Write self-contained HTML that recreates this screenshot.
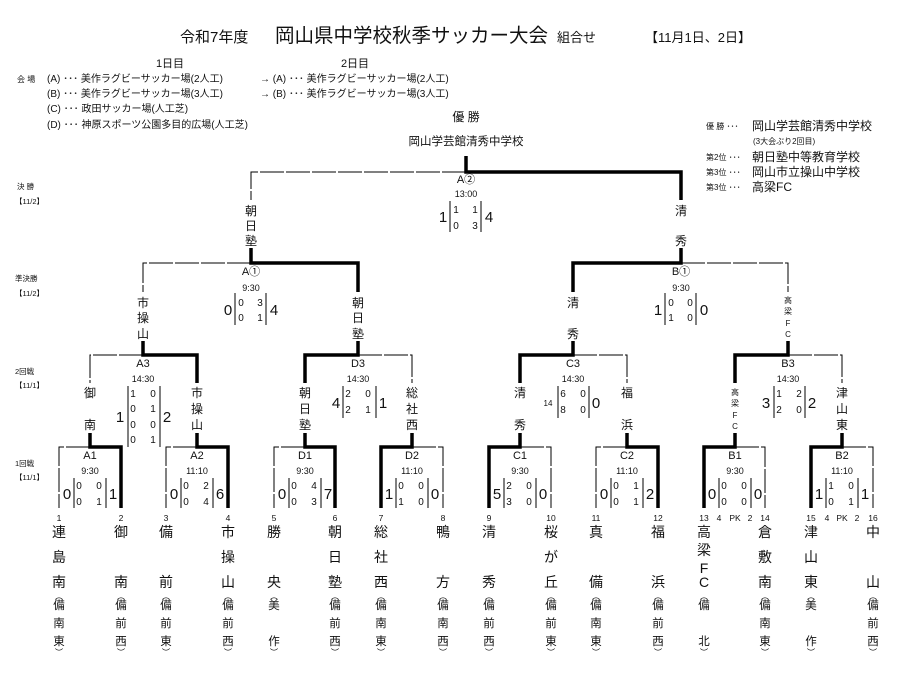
<!DOCTYPE html>
<html><head><meta charset="utf-8"><style>
html,body{margin:0;padding:0;background:#fff;}
svg{display:block;font-family:"Liberation Sans","Noto Sans CJK JP",sans-serif;}
text{fill:#111;}
.t{stroke:#000;stroke-width:1;fill:none;stroke-dasharray:24 2;}
.k{stroke:#000;stroke-width:3.5;fill:none;}
.b{stroke:#000;stroke-width:1;}
.m{text-anchor:middle;}
</style></head><body>
<svg width="905" height="675" viewBox="0 0 905 675">
<!-- header -->
<text x="180" y="42" font-size="15">令和7年度</text>
<text x="275" y="42" font-size="19.5">岡山県中学校秋季サッカー大会</text>
<text x="557" y="42" font-size="13">組合せ</text>
<text x="645" y="42" font-size="13">【11月1日、2日】</text>
<text x="170" y="67" font-size="11" class="m">1日目</text>
<text x="355" y="67" font-size="11" class="m">2日目</text>
<g font-size="10">
<text x="17" y="82" font-size="8">会 場</text>
<text x="47" y="82">(A) ･･･ 美作ラグビーサッカー場(2人工)</text>
<text x="47" y="97">(B) ･･･ 美作ラグビーサッカー場(3人工)</text>
<text x="47" y="112">(C) ･･･ 政田サッカー場(人工芝)</text>
<text x="47" y="128">(D) ･･･ 神原スポーツ公園多目的広場(人工芝)</text>
<text x="260" y="82">→ (A) ･･･ 美作ラグビーサッカー場(2人工)</text>
<text x="260" y="97">→ (B) ･･･ 美作ラグビーサッカー場(3人工)</text>
</g>
<!-- legend right -->
<text x="706" y="129" font-size="8">優 勝 ･･･</text>
<text x="752" y="130" font-size="12">岡山学芸館清秀中学校</text>
<text x="753" y="144" font-size="8">(3大会ぶり2回目)</text>
<text x="706" y="160" font-size="8">第2位 ･･･</text>
<text x="752" y="161" font-size="12">朝日塾中等教育学校</text>
<text x="706" y="175" font-size="8">第3位 ･･･</text>
<text x="752" y="176" font-size="12">岡山市立操山中学校</text>
<text x="706" y="190" font-size="8">第3位 ･･･</text>
<text x="752" y="191" font-size="12">高梁FC</text>
<!-- left round labels -->
<g font-size="7.5">
<text x="17" y="189">決 勝</text><text x="15" y="204">【11/2】</text>
<text x="15" y="281">準決勝</text><text x="15" y="296">【11/2】</text>
<text x="15" y="374">2回戦</text><text x="15" y="388">【11/1】</text>
<text x="15" y="466">1回戦</text><text x="15" y="480">【11/1】</text>
</g>
<!-- champion -->
<text x="466" y="121" font-size="12" class="m">優 勝</text>
<text x="466" y="145" font-size="11.5" class="m">岡山学芸館清秀中学校</text>

<!-- lines thin -->
<path class="t" d="M90 447H59V508 M197 447H166V508 M305 447H274V508 M412 447H443V508 M520 447H551V508 M627 447H596V508 M735 447H765V508 M842 447H873V508"/>
<path class="t" d="M143 355H90V383 M358 355H412V383 M573 355H627V383 M788 355H842V383"/>
<path class="t" d="M251 263H143V292 M681 263H788V292"/>
<path class="t" d="M466 172H251V200"/>
<!-- thick -->
<path class="k" d="M121 508V447H90V433 M228 508V447H197V433 M335 508V447H305V433 M381 508V447H412V433 M489 508V447H520V433 M658 508V447H627V433 M704 508V447H735V433 M811 508V447H842V433"/>
<path class="k" d="M197 383V355H143V341 M305 383V355H358V341 M520 383V355H573V341 M735 383V355H788V341"/>
<path class="k" d="M358 292V263H251V248 M573 292V263H681V248"/>
<path class="k" d="M681 200V172H466V156"/>

<!-- final -->
<text x="466" y="183" font-size="11" class="m">A②</text>
<text x="466" y="197" font-size="9" class="m">13:00</text>
<line class="b" x1="450" y1="201" x2="450" y2="232"/><line class="b" x1="481" y1="201" x2="481" y2="232"/>
<text x="443" y="222" font-size="15" class="m">1</text><text x="489" y="222" font-size="15" class="m">4</text>
<g font-size="10" class="m"><text x="456" y="213">1</text><text x="475" y="213">1</text><text x="456" y="229">0</text><text x="475" y="229">3</text></g>
<g font-size="12" class="m">
<text x="251" y="215">朝</text><text x="251" y="230">日</text><text x="251" y="245">塾</text>
<text x="681" y="215">清</text><text x="681" y="245">秀</text>
</g>

<!-- semis -->
<g class="m">
<text x="251" y="275" font-size="11">A①</text><text x="251" y="291" font-size="9">9:30</text>
<text x="681" y="275" font-size="11">B①</text><text x="681" y="291" font-size="9">9:30</text>
</g>
<line class="b" x1="235" y1="293" x2="235" y2="325"/><line class="b" x1="266" y1="293" x2="266" y2="325"/>
<line class="b" x1="665" y1="293" x2="665" y2="325"/><line class="b" x1="696" y1="293" x2="696" y2="325"/>
<g class="m" font-size="15"><text x="228" y="315">0</text><text x="274" y="315">4</text><text x="658" y="315">1</text><text x="704" y="315">0</text></g>
<g class="m" font-size="10">
<text x="241" y="306">0</text><text x="260" y="306">3</text><text x="241" y="321">0</text><text x="260" y="321">1</text>
<text x="671" y="306">0</text><text x="690" y="306">0</text><text x="671" y="321">1</text><text x="690" y="321">0</text>
</g>
<g class="m" font-size="12">
<text x="143" y="307">市</text><text x="143" y="322">操</text><text x="143" y="338">山</text>
<text x="358" y="307">朝</text><text x="358" y="322">日</text><text x="358" y="338">塾</text>
<text x="573" y="307">清</text><text x="573" y="338">秀</text>
</g>
<g class="m" font-size="8"><text x="788" y="303">高</text><text x="788" y="314">梁</text><text x="788" y="326">F</text><text x="788" y="337">C</text></g>

<!-- round 2 -->
<g class="m">
<text x="143" y="367" font-size="11">A3</text><text x="143" y="382" font-size="9">14:30</text>
<text x="358" y="367" font-size="11">D3</text><text x="358" y="382" font-size="9">14:30</text>
<text x="573" y="367" font-size="11">C3</text><text x="573" y="382" font-size="9">14:30</text>
<text x="788" y="367" font-size="11">B3</text><text x="788" y="382" font-size="9">14:30</text>
</g>
<line class="b" x1="128" y1="386" x2="128" y2="447"/><line class="b" x1="160" y1="386" x2="160" y2="447"/>
<line class="b" x1="343" y1="386" x2="343" y2="418"/><line class="b" x1="376" y1="386" x2="376" y2="418"/>
<line class="b" x1="558" y1="386" x2="558" y2="418"/><line class="b" x1="589" y1="386" x2="589" y2="418"/>
<line class="b" x1="774" y1="386" x2="774" y2="418"/><line class="b" x1="805" y1="386" x2="805" y2="418"/>
<g class="m" font-size="15">
<text x="120" y="422">1</text><text x="167" y="422">2</text>
<text x="336" y="408">4</text><text x="383" y="408">1</text>
<text x="596" y="408">0</text>
<text x="766" y="408">3</text><text x="812" y="408">2</text>
</g>
<text x="548" y="406" font-size="8" class="m">14</text>
<g class="m" font-size="10">
<text x="133" y="397">1</text><text x="153" y="397">0</text>
<text x="133" y="412">0</text><text x="153" y="412">1</text>
<text x="133" y="428">0</text><text x="153" y="428">0</text>
<text x="133" y="443">0</text><text x="153" y="443">1</text>
<text x="348" y="397">2</text><text x="368" y="397">0</text><text x="348" y="413">2</text><text x="368" y="413">1</text>
<text x="563" y="397">6</text><text x="583" y="397">0</text><text x="563" y="413">8</text><text x="583" y="413">0</text>
<text x="779" y="397">1</text><text x="799" y="397">2</text><text x="779" y="413">2</text><text x="799" y="413">0</text>
</g>
<g class="m" font-size="12">
<text x="90" y="397">御</text><text x="90" y="429">南</text>
<text x="197" y="397">市</text><text x="197" y="413">操</text><text x="197" y="429">山</text>
<text x="305" y="397">朝</text><text x="305" y="413">日</text><text x="305" y="429">塾</text>
<text x="412" y="397">総</text><text x="412" y="413">社</text><text x="412" y="429">西</text>
<text x="520" y="397">清</text><text x="520" y="429">秀</text>
<text x="627" y="397">福</text><text x="627" y="429">浜</text>
<text x="842" y="397">津</text><text x="842" y="413">山</text><text x="842" y="429">東</text>
</g>
<g class="m" font-size="8"><text x="735" y="395">高</text><text x="735" y="406">梁</text><text x="735" y="418">F</text><text x="735" y="429">C</text></g>

<!-- round 1 -->
<g class="m">
<text x="90" y="459" font-size="11">A1</text><text x="90" y="474" font-size="9">9:30</text>
<text x="197" y="459" font-size="11">A2</text><text x="197" y="474" font-size="9">11:10</text>
<text x="305" y="459" font-size="11">D1</text><text x="305" y="474" font-size="9">9:30</text>
<text x="412" y="459" font-size="11">D2</text><text x="412" y="474" font-size="9">11:10</text>
<text x="520" y="459" font-size="11">C1</text><text x="520" y="474" font-size="9">9:30</text>
<text x="627" y="459" font-size="11">C2</text><text x="627" y="474" font-size="9">11:10</text>
<text x="735" y="459" font-size="11">B1</text><text x="735" y="474" font-size="9">9:30</text>
<text x="842" y="459" font-size="11">B2</text><text x="842" y="474" font-size="9">11:10</text>
</g>
<g class="b">
<line x1="74" y1="478" x2="74" y2="508"/><line x1="106" y1="478" x2="106" y2="508"/>
<line x1="181" y1="478" x2="181" y2="508"/><line x1="213" y1="478" x2="213" y2="508"/>
<line x1="289" y1="478" x2="289" y2="508"/><line x1="321" y1="478" x2="321" y2="508"/>
<line x1="396" y1="478" x2="396" y2="508"/><line x1="428" y1="478" x2="428" y2="508"/>
<line x1="504" y1="478" x2="504" y2="508"/><line x1="536" y1="478" x2="536" y2="508"/>
<line x1="611" y1="478" x2="611" y2="508"/><line x1="643" y1="478" x2="643" y2="508"/>
<line x1="719" y1="478" x2="719" y2="508"/><line x1="751" y1="478" x2="751" y2="508"/>
<line x1="826" y1="478" x2="826" y2="508"/><line x1="858" y1="478" x2="858" y2="508"/>
</g>
<g class="m" font-size="15">
<text x="67" y="499">0</text><text x="113" y="499">1</text>
<text x="174" y="499">0</text><text x="220" y="499">6</text>
<text x="282" y="499">0</text><text x="328" y="499">7</text>
<text x="389" y="499">1</text><text x="435" y="499">0</text>
<text x="497" y="499">5</text><text x="543" y="499">0</text>
<text x="604" y="499">0</text><text x="650" y="499">2</text>
<text x="712" y="499">0</text><text x="758" y="499">0</text>
<text x="819" y="499">1</text><text x="865" y="499">1</text>
</g>
<g class="m" font-size="10">
<text x="79" y="489">0</text><text x="99" y="489">0</text><text x="79" y="505">0</text><text x="99" y="505">1</text>
<text x="186" y="489">0</text><text x="206" y="489">2</text><text x="186" y="505">0</text><text x="206" y="505">4</text>
<text x="294" y="489">0</text><text x="314" y="489">4</text><text x="294" y="505">0</text><text x="314" y="505">3</text>
<text x="401" y="489">0</text><text x="421" y="489">0</text><text x="401" y="505">1</text><text x="421" y="505">0</text>
<text x="509" y="489">2</text><text x="529" y="489">0</text><text x="509" y="505">3</text><text x="529" y="505">0</text>
<text x="616" y="489">0</text><text x="636" y="489">1</text><text x="616" y="505">0</text><text x="636" y="505">1</text>
<text x="724" y="489">0</text><text x="744" y="489">0</text><text x="724" y="505">0</text><text x="744" y="505">0</text>
<text x="831" y="489">1</text><text x="851" y="489">0</text><text x="831" y="505">0</text><text x="851" y="505">1</text>
</g>
<!-- team numbers -->
<g class="m" font-size="8.5">
<text x="59" y="521">1</text><text x="121" y="521">2</text><text x="166" y="521">3</text><text x="228" y="521">4</text>
<text x="274" y="521">5</text><text x="335" y="521">6</text><text x="381" y="521">7</text><text x="443" y="521">8</text>
<text x="489" y="521">9</text><text x="551" y="521">10</text><text x="596" y="521">11</text><text x="658" y="521">12</text>
<text x="704" y="521">13</text><text x="765" y="521">14</text><text x="811" y="521">15</text><text x="873" y="521">16</text>
<text x="719" y="521">4</text><text x="735" y="521">PK</text><text x="750" y="521">2</text>
<text x="827" y="521">4</text><text x="842" y="521">PK</text><text x="857" y="521">2</text>
</g>
<!-- team names -->
<g class="m" font-size="14">
<text x="59" y="537">連</text><text x="59" y="562">島</text><text x="59" y="587">南</text>
<text x="121" y="537">御</text><text x="121" y="587">南</text>
<text x="166" y="537">備</text><text x="166" y="587">前</text>
<text x="228" y="537">市</text><text x="228" y="562">操</text><text x="228" y="587">山</text>
<text x="274" y="537">勝</text><text x="274" y="587">央</text>
<text x="335" y="537">朝</text><text x="335" y="562">日</text><text x="335" y="587">塾</text>
<text x="381" y="537">総</text><text x="381" y="562">社</text><text x="381" y="587">西</text>
<text x="443" y="537">鴨</text><text x="443" y="587">方</text>
<text x="489" y="537">清</text><text x="489" y="587">秀</text>
<text x="551" y="537">桜</text><text x="551" y="562">が</text><text x="551" y="587">丘</text>
<text x="596" y="537">真</text><text x="596" y="587">備</text>
<text x="658" y="537">福</text><text x="658" y="587">浜</text>
<text x="704" y="537">高</text><text x="704" y="555">梁</text><text x="704" y="573">F</text><text x="704" y="587">C</text>
<text x="765" y="537">倉</text><text x="765" y="562">敷</text><text x="765" y="587">南</text>
<text x="811" y="537">津</text><text x="811" y="562">山</text><text x="811" y="587">東</text>
<text x="873" y="537">中</text><text x="873" y="587">山</text>
</g>
<g class="m" font-size="11.5">
<text x="59" y="609">備</text><text x="59" y="627">南</text><text x="59" y="645">東</text>
<text x="121" y="609">備</text><text x="121" y="627">前</text><text x="121" y="645">西</text>
<text x="166" y="609">備</text><text x="166" y="627">前</text><text x="166" y="645">東</text>
<text x="228" y="609">備</text><text x="228" y="627">前</text><text x="228" y="645">西</text>
<text x="274" y="609">美</text><text x="274" y="645">作</text>
<text x="335" y="609">備</text><text x="335" y="627">前</text><text x="335" y="645">西</text>
<text x="381" y="609">備</text><text x="381" y="627">南</text><text x="381" y="645">東</text>
<text x="443" y="609">備</text><text x="443" y="627">南</text><text x="443" y="645">西</text>
<text x="489" y="609">備</text><text x="489" y="627">前</text><text x="489" y="645">西</text>
<text x="551" y="609">備</text><text x="551" y="627">前</text><text x="551" y="645">東</text>
<text x="596" y="609">備</text><text x="596" y="627">南</text><text x="596" y="645">東</text>
<text x="658" y="609">備</text><text x="658" y="627">前</text><text x="658" y="645">西</text>
<text x="704" y="609">備</text><text x="704" y="645">北</text>
<text x="765" y="609">備</text><text x="765" y="627">南</text><text x="765" y="645">東</text>
<text x="811" y="609">美</text><text x="811" y="645">作</text>
<text x="873" y="609">備</text><text x="873" y="627">前</text><text x="873" y="645">西</text>
</g>
<g class="m" font-size="8">
<text x="59" y="599">︵</text><text x="121" y="599">︵</text><text x="166" y="599">︵</text><text x="228" y="599">︵</text>
<text x="274" y="599">︵</text><text x="335" y="599">︵</text><text x="381" y="599">︵</text><text x="443" y="599">︵</text>
<text x="489" y="599">︵</text><text x="551" y="599">︵</text><text x="596" y="599">︵</text><text x="658" y="599">︵</text>
<text x="704" y="599">︵</text><text x="765" y="599">︵</text><text x="811" y="599">︵</text><text x="873" y="599">︵</text>
<text x="59" y="655">︶</text><text x="121" y="655">︶</text><text x="166" y="655">︶</text><text x="228" y="655">︶</text>
<text x="274" y="655">︶</text><text x="335" y="655">︶</text><text x="381" y="655">︶</text><text x="443" y="655">︶</text>
<text x="489" y="655">︶</text><text x="551" y="655">︶</text><text x="596" y="655">︶</text><text x="658" y="655">︶</text>
<text x="704" y="655">︶</text><text x="765" y="655">︶</text><text x="811" y="655">︶</text><text x="873" y="655">︶</text>
</g>
</svg>
</body></html>
